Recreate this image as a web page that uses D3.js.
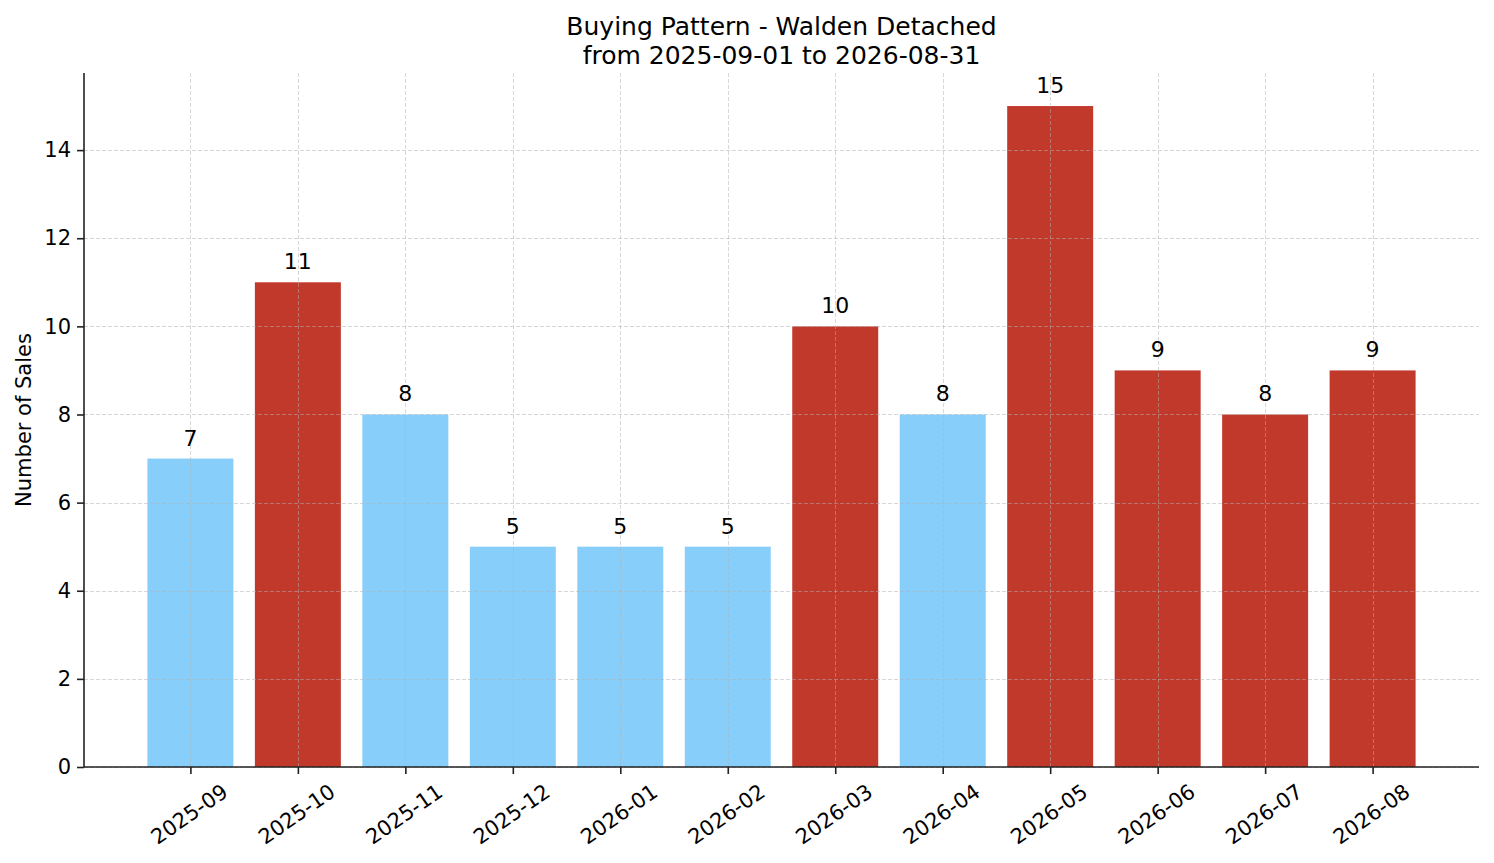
<!DOCTYPE html>
<meta charset="utf-8">
<script src="https://d3js.org/d3.v7.min.js"></script>
<style>
  body { margin: 0; background: #fff; }
  text { font-family: "DejaVu Sans", sans-serif; fill: #000; }
</style>
<div id="chart"></div>
<script>

// data
var months = ["2025-09", "2025-10", "2025-11", "2025-12", "2026-01", "2026-02",
              "2026-03", "2026-04", "2026-05", "2026-06", "2026-07", "2026-08"];
var sales = [7, 11, 8, 5, 5, 5, 10, 8, 15, 9, 8, 9];
// which bars are drawn red (the rest light blue)
var hot = [false, true, false, false, false, false, true, false, true, true, true, true];
var yTicks = [0, 2, 4, 6, 8, 10, 12, 14];
var titleLines = ["Buying Pattern - Walden Detached", "from 2025-09-01 to 2026-08-31"];

var W = 1494, H = 863;
var margin = {top: 73, right: 15, bottom: 96, left: 84},
    width = W - margin.left - margin.right,
    height = H - margin.top - margin.bottom;

var tickFont = 21, valueFont = 22, titleFont = 25;

var svg = d3.select("#chart").append("svg")
    .attr("width", W)
    .attr("height", H);

var g = svg.append("g")
    .attr("transform", "translate(" + margin.left + "," + margin.top + ")");

// x: bar index, padded like matplotlib's default limits
var n = months.length;
var x = d3.scaleLinear()
    .domain([-0.4 - 0.05 * (n - 0.2), n - 0.6 + 0.05 * (n - 0.2)])
    .range([0, width]);
var ymax = d3.max(sales) * 1.05;
var y = d3.scaleLinear()
    .domain([0, ymax])
    .range([height, 0]);

// bars
g.selectAll("rect.bar")
  .data(sales)
  .enter().append("rect")
    .attr("class", "bar")
    .attr("x", function(d, i) { return x(i - 0.4); })
    .attr("width", function(d, i) { return x(i + 0.4) - x(i - 0.4); })
    .attr("y", function(d) { return y(d); })
    .attr("height", function(d) { return height - y(d); })
    .attr("fill", function(d, i) { return hot[i] ? "#c0392b" : "#87cefa"; });

// grid, drawn over the bars
var grid = g.append("g")
    .attr("stroke", "#b0b0b0")
    .attr("stroke-opacity", 0.5)
    .attr("stroke-width", 1)
    .attr("stroke-dasharray", "4,2");
grid.selectAll("line.h")
  .data(yTicks)
  .enter().append("line")
    .attr("x1", 0).attr("x2", width)
    .attr("y1", function(d) { return Math.round(y(d)) + 0.5; })
    .attr("y2", function(d) { return Math.round(y(d)) + 0.5; });
grid.selectAll("line.v")
  .data(months)
  .enter().append("line")
    .attr("y1", 0).attr("y2", height)
    .attr("x1", function(d, i) { return Math.round(x(i)) + 0.5; })
    .attr("x2", function(d, i) { return Math.round(x(i)) + 0.5; });

// value labels
g.selectAll("text.val")
  .data(sales)
  .enter().append("text")
    .attr("class", "val")
    .attr("x", function(d, i) { return x(i); })
    .attr("y", function(d) { return y(d) - 13; })
    .attr("text-anchor", "middle")
    .style("font-size", valueFont + "px")
    .text(function(d) { return d; });

// y axis
var yAxis = g.append("g")
    .call(d3.axisLeft(y).tickValues(yTicks).tickSize(7).tickPadding(6));
yAxis.select(".domain").attr("d", "M0," + height + "V0");

// x axis
var xAxis = g.append("g")
    .attr("transform", "translate(0," + height + ")")
    .call(d3.axisBottom(x).tickValues(d3.range(n)).tickSize(7).tickFormat(function() { return ""; }));
xAxis.select(".domain").attr("d", "M0,0H" + width);

[yAxis, xAxis].forEach(function(a) {
  a.select(".domain").attr("stroke", "#222").attr("stroke-width", 1.6);
  a.selectAll(".tick line").attr("stroke", "#222").attr("stroke-width", 1.6);
});
yAxis.selectAll(".tick text")
    .style("font-size", tickFont + "px")
    .attr("fill", "#000")
    .style("font-family", "DejaVu Sans");

// rotated month labels: rotated box centred on the tick, top just below it
var angle = 35 * Math.PI / 180;
g.selectAll("text.month")
  .data(months)
  .enter().append("text")
    .attr("class", "month")
    .style("font-size", tickFont + "px")
    .attr("text-anchor", "middle")
    .attr("dominant-baseline", "central")
    .text(function(d) { return d; })
    .each(function(d, i) {
      var w = this.getComputedTextLength(), h = 0.73 * tickFont;
      var cy = height + 16 + (w * Math.sin(angle) + h * Math.cos(angle)) / 2;
      var cx = x(i) - 1;
      d3.select(this)
        .attr("x", cx).attr("y", cy)
        .attr("transform", "rotate(-35," + cx + "," + cy + ")");
    });

// y label
svg.append("text")
    .attr("transform", "translate(24," + (margin.top + height / 2) + ") rotate(-90)")
    .attr("text-anchor", "middle")
    .attr("dominant-baseline", "central")
    .style("font-size", tickFont + "px")
    .text("Number of Sales");

// title
svg.selectAll("text.title")
  .data(titleLines)
  .enter().append("text")
    .attr("class", "title")
    .attr("x", margin.left + width / 2)
    .attr("y", function(d, i) { return 35 + i * 28.5; })
    .attr("text-anchor", "middle")
    .style("font-size", titleFont + "px")
    .text(function(d) { return d; });

</script>
